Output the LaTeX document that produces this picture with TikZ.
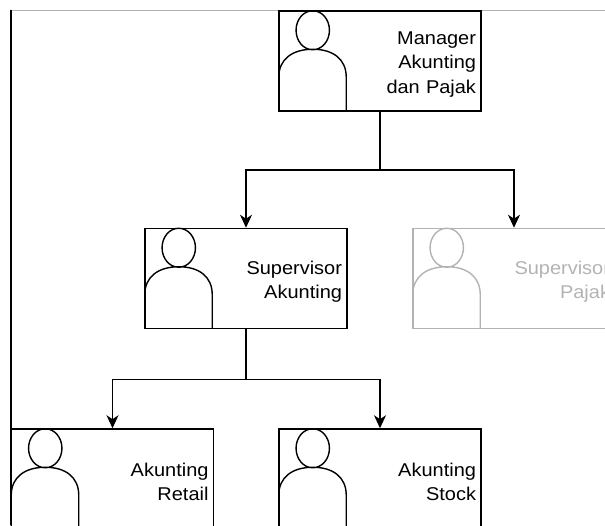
\documentclass[tikz,border=0pt]{standalone}
\usepackage{fontspec}
\setmainfont{Liberation Sans}[FakeStretch=1.08]
\usetikzlibrary{arrows.meta}
\definecolor{faded}{HTML}{B3B3B3}

\tikzset{
  staff/.style={draw, line width=1.5pt, minimum height=100pt, text width=192pt,
    inner xsep=5pt, align=right, text height=19.5pt, font=\fontsize{18.5}{24.5}\selectfont},
  person/.style={line width=1.4pt},
  arr/.style={-{Stealth[length=13pt, width=12pt, inset=4pt]}, line width=1.5pt}
}

\begin{document}
\begin{tikzpicture}[x=1pt, y=-1pt]
\useasboundingbox (0,0) rectangle (605,525);

% page edge
\draw[faded, line width=1pt] (11,10) -- (605,10);
\draw[line width=2pt] (11,10) -- (11,525);

\node[staff] (mgr) at (380,61) {Manager\\Akunting\\dan Pajak};
\node[staff] (supA) at (246,278.5) {Supervisor\\Akunting};
\node[staff, draw=faded, text=faded] (supP) at (514,278.5) {Supervisor\\Pajak};
\node[staff] (retail) at (112.5,479) {Akunting\\Retail};
\node[staff] (stock) at (380,479) {Akunting\\Stock};

% person icons
\foreach \n/\c in {mgr/black, supA/black, supP/faded, retail/black, stock/black}
  \draw[person, \c, shift={(\n.north west)}]
    (34.5,20) ellipse [x radius=16.7, y radius=19.5]
    (0.5,100) -- (0.5,67) .. controls (0.5,49) and (14,39) .. (34.5,39)
    .. controls (55,39) and (68,49) .. (68,67) -- (68,100);

% connectors
\draw[arr] (mgr.south) -- ++(0,58) -| (supA.north);
\draw[arr] (mgr.south) -- ++(0,58) -| (supP.north);
\draw[arr] (supA.south) -- ++(0,50) -| (retail.north);
\draw[arr] (supA.south) -- ++(0,50) -| (stock.north);
\end{tikzpicture}
\end{document}
